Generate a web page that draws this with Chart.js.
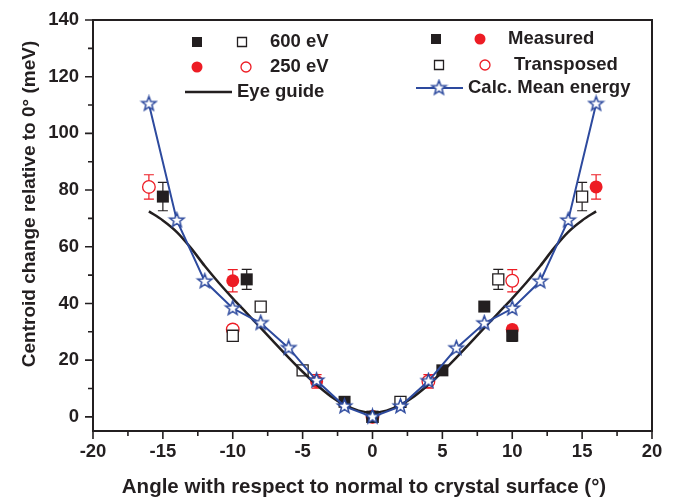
<!DOCTYPE html>
<html lang="en">
<head>
<meta charset="UTF-8">
<title>Centroid change vs angle</title>
<script src="https://cdn.jsdelivr.net/npm/chart.js"></script>
<style>
  body { margin: 0; background: #fff; }
  canvas { display: block; }
</style>
</head>
<body>
<canvas id="chart" width="674" height="498"></canvas>
<script>
// values
var calcAngles = [-16, -14, -12, -10, -8, -6, -4, -2, 0, 2, 4, 6, 8, 10, 12, 14, 16];
var calcMean   = [110.4, 69.3, 47.8, 38.3, 33.1, 24.3, 12.8, 3.7, 0, 3.7, 12.6, 24.2, 33, 38.2, 47.8, 69.3, 110.4];

var eyeAngles = [-16, -15, -14, -13, -12, -11, -10, -9, -8, -7, -6, -5, -4, -3, -2, -1, 0,
                 1, 2, 3, 4, 5, 6, 7, 8, 9, 10, 11, 12, 13, 14, 15, 16];
var eyeGuide  = [72.5, 69.3, 65.2, 59.6, 53.2, 47.3, 41.8, 36.6, 31.4, 26.1, 20.9, 15.9, 11.3, 7.3, 4.2, 2.2, 1.5,
                 2.2, 4.2, 7.3, 11.3, 15.9, 20.9, 26.1, 31.4, 36.6, 41.8, 47.3, 53.2, 59.6, 65.2, 69.3, 72.5];

var m600Angles = [-15, -9, -2, 0, 5, 8, 10];
var m600Values = [77.7, 48.5, 5.3, 0, 16.4, 38.9, 28.6];
var m600Errors = [5.0, 3.5, 0, 0, 0, 0, 2.0];

var t600Angles = [15, 9, 2, 0, -5, -8, -10];
var t600Values = [77.7, 48.5, 5.3, 0, 16.4, 38.9, 28.6];
var t600Errors = [5.0, 3.5, 0, 0, 0, 0, 2.0];

var m250Angles = [-10, -4, 0, 10, 16];
var m250Values = [48.0, 12.5, 0, 30.8, 81.1];
var m250Errors = [3.9, 2.4, 0, 1.5, 4.3];

var t250Angles = [10, 4, 0, -10, -16];
var t250Values = [48.0, 12.5, 0, 30.8, 81.1];
var t250Errors = [3.9, 2.4, 0, 1.5, 4.3];

var xTickValues = [-20, -15, -10, -5, 0, 5, 10, 15, 20];
var yTickValues = [0, 20, 40, 60, 80, 100, 120, 140];

var xTitle = 'Angle with respect to normal to crystal surface (°)';
var yTitle = 'Centroid change relative to 0° (meV)';

var BLACK = '#231f20';
var RED = '#ed1c24';
var BLUE = '#2d4a9e';
var FAMILY = '"Liberation Sans", Arial, sans-serif';
var FONT = 'bold 18.5px ' + FAMILY;

function pts(xs, ys) {
    return xs.map(function (x, i) { return { x: x, y: ys[i] }; });
}

// hollow five-point star used as the marker of the calculated curve
function makeStar(r) {
    var c = document.createElement('canvas');
    c.width = c.height = Math.ceil(r * 2 + 4);
    var g = c.getContext('2d');
    var cx = c.width / 2, cy = c.height / 2;
    g.beginPath();
    for (var k = 0; k < 10; k++) {
        var rr = k % 2 === 0 ? r : r * 0.42;
        var a = -Math.PI / 2 + k * Math.PI / 5;
        g.lineTo(cx + rr * Math.cos(a), cy + rr * Math.sin(a));
    }
    g.closePath();
    g.fillStyle = '#fff';
    g.fill();
    g.strokeStyle = BLUE;
    g.lineWidth = 1.5;
    g.stroke();
    return c;
}
var starImg = makeStar(7.5);

function square(ctx, x, y, s, filled, color) {
    ctx.beginPath();
    ctx.rect(x - s / 2, y - s / 2, s, s);
    if (filled) { ctx.fillStyle = color; ctx.fill(); }
    else { ctx.fillStyle = '#fff'; ctx.fill(); ctx.strokeStyle = color; ctx.lineWidth = 1.3; ctx.stroke(); }
}
function circle(ctx, x, y, r, filled, color) {
    ctx.beginPath();
    ctx.arc(x, y, r, 0, Math.PI * 2);
    if (filled) { ctx.fillStyle = color; ctx.fill(); }
    else { ctx.fillStyle = '#fff'; ctx.fill(); ctx.strokeStyle = color; ctx.lineWidth = 1.3; ctx.stroke(); }
}
function label(ctx, text, x, y) {
    ctx.fillStyle = BLACK;
    ctx.font = FONT;
    ctx.textAlign = 'left';
    ctx.textBaseline = 'middle';
    ctx.fillText(text, x, y);
}

var decor = {
    id: 'decor',
    beforeDatasetsDraw: function (chart) {
        // error bars, under the markers
        var ctx = chart.ctx, xs = chart.scales.x, ys = chart.scales.y;
        chart.data.datasets.forEach(function (ds) {
            if (!ds.errors) return;
            ctx.save();
            ctx.strokeStyle = ds.borderColor;
            ctx.lineWidth = 1.2;
            ds.data.forEach(function (p, j) {
                var e = ds.errors[j];
                if (!e) return;
                var x = xs.getPixelForValue(p.x);
                var y1 = ys.getPixelForValue(p.y - e), y2 = ys.getPixelForValue(p.y + e);
                ctx.beginPath();
                ctx.moveTo(x, y1); ctx.lineTo(x, y2);
                ctx.moveTo(x - 5, y1); ctx.lineTo(x + 5, y1);
                ctx.moveTo(x - 5, y2); ctx.lineTo(x + 5, y2);
                ctx.stroke();
            });
            ctx.restore();
        });
    },
    afterDraw: function (chart) {
        var ctx = chart.ctx, a = chart.chartArea, xs = chart.scales.x, ys = chart.scales.y;
        ctx.save();
        // frame
        ctx.strokeStyle = BLACK;
        ctx.lineWidth = 2;
        ctx.strokeRect(a.left, a.top, a.right - a.left, a.bottom - a.top);
        // outward ticks, major and minor
        ctx.lineWidth = 1.6;
        ctx.beginPath();
        for (var v = -20; v <= 20; v += 2.5) {
            var px = xs.getPixelForValue(v);
            var len = v % 5 === 0 ? 8 : 5;
            ctx.moveTo(px, a.bottom); ctx.lineTo(px, a.bottom + len);
        }
        for (var w = 0; w <= 140; w += 10) {
            var py = ys.getPixelForValue(w);
            var ln = w % 20 === 0 ? 8 : 5;
            ctx.moveTo(a.left, py); ctx.lineTo(a.left - ln, py);
        }
        ctx.stroke();

        // axis titles
        ctx.fillStyle = BLACK;
        ctx.textAlign = 'center';
        ctx.textBaseline = 'middle';
        ctx.font = 'bold 20.5px ' + FAMILY;
        ctx.fillText(xTitle, 364, 487);
        ctx.save();
        ctx.translate(30, 204);
        ctx.rotate(-Math.PI / 2);
        ctx.font = 'bold 19px ' + FAMILY;
        ctx.fillText(yTitle, 0, 0);
        ctx.restore();

        // legend, left block
        square(ctx, 197, 42, 10, true, BLACK);
        square(ctx, 242, 42, 9, false, BLACK);
        label(ctx, '600 eV', 270, 42);
        circle(ctx, 197, 67, 5.5, true, RED);
        circle(ctx, 246, 67, 5, false, RED);
        label(ctx, '250 eV', 270, 67);
        ctx.strokeStyle = BLACK;
        ctx.lineWidth = 2.5;
        ctx.beginPath(); ctx.moveTo(185, 92); ctx.lineTo(232, 92); ctx.stroke();
        label(ctx, 'Eye guide', 237, 92);

        // legend, right block
        square(ctx, 436, 39, 10, true, BLACK);
        circle(ctx, 480, 39, 5.5, true, RED);
        label(ctx, 'Measured', 508, 39);
        square(ctx, 439, 65, 9, false, BLACK);
        circle(ctx, 485, 65, 5, false, RED);
        label(ctx, 'Transposed', 514, 65);
        ctx.strokeStyle = BLUE;
        ctx.lineWidth = 2;
        ctx.beginPath(); ctx.moveTo(416, 88); ctx.lineTo(463, 88); ctx.stroke();
        ctx.drawImage(starImg, 439 - starImg.width / 2, 88 - starImg.height / 2);
        label(ctx, 'Calc. Mean energy', 468, 88);
        ctx.restore();
    }
};

Chart.defaults.font.family = FAMILY;
Chart.defaults.color = BLACK;

new Chart(document.getElementById('chart'), {
    type: 'scatter',
    data: {
        datasets: [
            {
                label: 'Calc. Mean energy',
                type: 'line',
                data: pts(calcAngles, calcMean),
                borderColor: BLUE,
                borderWidth: 2,
                pointStyle: starImg,
                tension: 0
            },
            {
                label: 'Eye guide',
                type: 'line',
                data: pts(eyeAngles, eyeGuide),
                borderColor: BLACK,
                borderWidth: 2.5,
                pointRadius: 0,
                cubicInterpolationMode: 'monotone'
            },
            {
                label: '600 eV measured',
                data: pts(m600Angles, m600Values),
                errors: m600Errors,
                pointStyle: 'rect',
                pointRadius: 8.5,
                backgroundColor: BLACK,
                borderColor: BLACK,
                borderWidth: 0
            },
            {
                label: '600 eV transposed',
                data: pts(t600Angles, t600Values),
                errors: t600Errors,
                pointStyle: 'rect',
                pointRadius: 7.8,
                backgroundColor: '#fff',
                borderColor: BLACK,
                borderWidth: 1.3
            },
            {
                label: '250 eV measured',
                data: pts(m250Angles, m250Values),
                errors: m250Errors,
                pointStyle: 'circle',
                pointRadius: 6.5,
                backgroundColor: RED,
                borderColor: RED,
                borderWidth: 0
            },
            {
                label: '250 eV transposed',
                data: pts(t250Angles, t250Values),
                errors: t250Errors,
                pointStyle: 'circle',
                pointRadius: 6.3,
                backgroundColor: '#fff',
                borderColor: RED,
                borderWidth: 1.3
            }
        ]
    },
    options: {
        responsive: false,
        animation: false,
        layout: { padding: { top: 20, right: 22, left: 0, bottom: 0 } },
        plugins: {
            legend: { display: false },
            tooltip: { enabled: false }
        },
        scales: {
            x: {
                type: 'linear',
                min: -20,
                max: 20,
                afterBuildTicks: function (s) { s.ticks = xTickValues.map(function (v) { return { value: v }; }); },
                afterFit: function (s) { s.height = 67; },
                grid: { display: false },
                border: { display: false },
                ticks: { font: { size: 18.5, weight: 'bold' }, padding: 2, maxRotation: 0 },
                title: { display: false }
            },
            y: {
                min: -5,
                max: 140,
                afterBuildTicks: function (s) { s.ticks = yTickValues.map(function (v) { return { value: v }; }); },
                afterFit: function (s) { s.width = 93; },
                grid: { display: false },
                border: { display: false },
                ticks: { font: { size: 18.5, weight: 'bold' }, padding: 6 },
                title: { display: false }
            }
        }
    },
    plugins: [decor]
});
</script>
</body>
</html>
